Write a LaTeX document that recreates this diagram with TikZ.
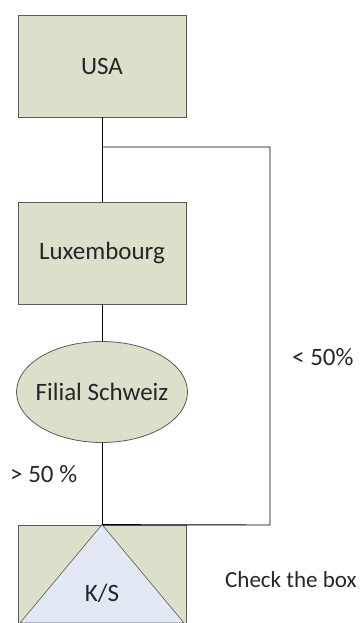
\documentclass[tikz,border=0pt]{standalone}
\usepackage{fontspec}
\setmainfont{Carlito}
\usetikzlibrary{positioning,shapes.geometric}
\definecolor{boxfill}{RGB}{220,223,202}
\definecolor{trifill}{RGB}{227,233,244}
\definecolor{boxline}{RGB}{90,90,90}
\begin{document}
\begin{tikzpicture}[x=1pt,y=-1pt,
  entity/.style={rectangle, draw=boxline, fill=boxfill, line width=0.8pt, minimum width=168pt, minimum height=102pt, inner sep=0pt},
  branch/.style={ellipse, draw=boxline, fill=boxfill, line width=0.8pt, minimum width=171pt, minimum height=101pt, inner sep=0pt},
  link/.style={draw=black, line width=0.9pt},
  every node/.style={font=\fontsize{25}{30}\selectfont, text=black!85}
]
\useasboundingbox (0,0) rectangle (360,623);
\clip (0,0) rectangle (360,623);
\node[entity] (usa) at (102,66) {USA};
\node[entity] (lux) at (102,253) {Luxembourg};
\node[branch, label=center:Filial Schweiz] (filial) at (102,392) {};
\node[entity, minimum height=104pt] (ks) at (102,577) {};
\coordinate (split) at (102,147);
\coordinate (corner1) at (270,147);
\coordinate (corner2) at (270,525);
% triangle inside the K/S box
\filldraw[draw=boxline, fill=trifill, line width=0.6pt]
  (ks.north) -- (20,623) -- (184,623) -- cycle;
\node (kslabel) at (102,593) {K/S};
% connectors
\draw[link] (usa.south) -- (lux.north);
\draw[link] (split) -- (corner1) -- (corner2) -- (ks.north);
\draw[link] (lux.south) -- (filial.north);
\draw[link] (filial.south) -- (ks.north);
% labels
\node[anchor=west, inner sep=0pt] (less) at (292,357) {< 50\%};
\node[anchor=west, inner sep=0pt] (more) at (10,474) {> 50 \%};
\node[anchor=west, inner sep=0pt, font=\fontsize{23}{28}\selectfont] (check) at (225,580) {Check the box};
\end{tikzpicture}
\end{document}
